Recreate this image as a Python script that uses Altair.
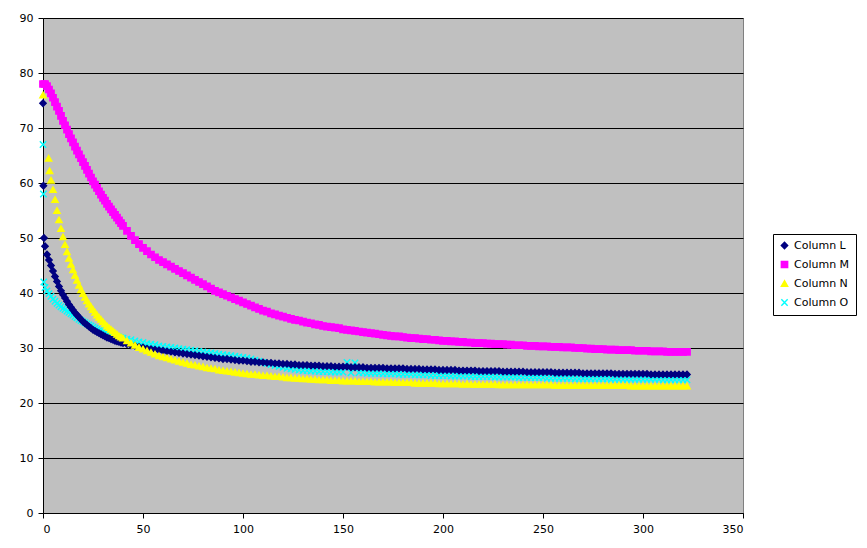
import altair as alt
import pandas as pd

# x positions of the dense part of every series
GRID = list(range(1, 41)) + list(range(42, 323, 2))

SERIES = ["Column L", "Column M", "Column N", "Column O"]
COLORS = ["#000080", "#FF00FF", "#FFFF00", "#00FFFF"]
XPATH = "M-1,-1L1,1M-1,1L1,-1"
SHAPES = ["diamond", "square", "triangle-up", XPATH]

# ---- Column L (navy diamonds)
L_head_x = [0, 0.2, 0.5]
L_head_y = [74.5, 59.5, 50.0]
L_a = [48.5, 47.0, 46.0, 45.0, 44.0, 43.0, 42.1, 41.2, 40.4, 39.7,
       39.1, 38.5, 37.9, 37.4, 36.9, 36.4, 36.0, 35.6, 35.2, 34.8,
       34.5, 34.2, 33.9, 33.6, 33.3, 33.1, 32.9, 32.7, 32.5, 32.3,
       32.1, 31.9, 31.8, 31.6, 31.5, 31.3, 31.2, 31.1, 31.0, 30.9]
L_b = [30.7, 30.5, 30.4, 30.2, 30.1, 29.9, 29.8, 29.7, 29.6, 29.5,
       29.4, 29.3, 29.2, 29.1, 29.0, 28.9, 28.8, 28.7, 28.6, 28.5,
       28.4, 28.3, 28.2, 28.1, 28.0, 28.0, 27.9, 27.8, 27.7, 27.7,
       27.6, 27.5, 27.5, 27.4, 27.4, 27.3, 27.3, 27.2, 27.2, 27.1,
       27.1, 27.0, 27.0, 26.9, 26.9, 26.9, 26.8, 26.8, 26.8, 26.7,
       26.7, 26.7, 26.6, 26.6, 26.6, 26.6, 26.5, 26.5, 26.5, 26.5,
       26.4, 26.4, 26.4, 26.4, 26.4, 26.3, 26.3, 26.3, 26.3, 26.3,
       26.2, 26.2, 26.2, 26.2, 26.1, 26.1, 26.1, 26.1, 26.0, 26.0,
       26.0, 26.0, 26.0, 25.9, 25.9, 25.9, 25.9, 25.9, 25.8, 25.8,
       25.8, 25.8, 25.8, 25.8, 25.7, 25.7, 25.7, 25.7, 25.7, 25.7,
       25.6, 25.6, 25.6, 25.6, 25.6, 25.6, 25.6, 25.5, 25.5, 25.5,
       25.5, 25.5, 25.5, 25.5, 25.4, 25.4, 25.4, 25.4, 25.4, 25.4,
       25.4, 25.4, 25.3, 25.3, 25.3, 25.3, 25.3, 25.3, 25.3, 25.3,
       25.3, 25.2, 25.2, 25.2, 25.2, 25.2, 25.2, 25.2, 25.2, 25.2,
       25.2]

# ---- Column M (magenta squares)
M_head_x = [0]
M_head_y = [78.0]
M_a = [78.0, 77.6, 77.0, 76.3, 75.5, 74.7, 73.9, 73.1, 72.2, 71.3,
       70.5, 69.7, 68.9, 68.1, 67.4, 66.6, 65.9, 65.2, 64.5, 63.8,
       63.1, 62.4, 61.7, 61.0, 60.3, 59.7, 59.1, 58.5, 57.9, 57.3,
       56.8, 56.2, 55.7, 55.2, 54.7, 54.2, 53.7, 53.2, 52.7, 52.2]
M_b = [51.3, 50.4, 49.6, 48.9, 48.2, 47.6, 47.0, 46.5, 46.0, 45.6,
       45.2, 44.8, 44.4, 44.0, 43.6, 43.2, 42.8, 42.4, 42.0, 41.6,
       41.2, 40.8, 40.4, 40.1, 39.8, 39.5, 39.2, 38.9, 38.6, 38.3,
       38.0, 37.7, 37.4, 37.1, 36.8, 36.6, 36.3, 36.1, 35.9, 35.7,
       35.5, 35.3, 35.1, 35.0, 34.8, 34.6, 34.5, 34.3, 34.2, 34.0,
       33.9, 33.8, 33.7, 33.6, 33.4, 33.3, 33.2, 33.1, 33.0, 32.9,
       32.8, 32.7, 32.6, 32.5, 32.4, 32.3, 32.2, 32.1, 32.1, 32.0,
       31.9, 31.8, 31.8, 31.7, 31.6, 31.6, 31.5, 31.5, 31.4, 31.3,
       31.3, 31.2, 31.2, 31.1, 31.1, 31.0, 31.0, 30.9, 30.9, 30.9,
       30.8, 30.8, 30.7, 30.7, 30.7, 30.6, 30.6, 30.5, 30.5, 30.5,
       30.4, 30.4, 30.4, 30.3, 30.3, 30.3, 30.2, 30.2, 30.2, 30.1,
       30.1, 30.1, 30.0, 30.0, 30.0, 29.9, 29.9, 29.8, 29.8, 29.8,
       29.7, 29.7, 29.7, 29.6, 29.6, 29.6, 29.6, 29.5, 29.5, 29.5,
       29.5, 29.4, 29.4, 29.4, 29.4, 29.3, 29.3, 29.3, 29.3, 29.3,
       29.3]

# ---- Column N (yellow triangles)
N_head_x = [0, 2.8, 3.3]
N_head_y = [76.0, 64.5, 62.2]
N_a = [None, None, None, 60.5, 58.8, 57.0, 55.0, 53.3, 51.7, 50.2,
       48.8, 47.5, 46.3, 45.2, 44.2, 43.2, 42.3, 41.4, 40.6, 39.9,
       39.2, 38.6, 38.0, 37.5, 37.0, 36.5, 36.0, 35.6, 35.2, 34.8,
       34.4, 34.0, 33.7, 33.4, 33.1, 32.8, 32.5, 32.2, 32.0, 31.8]
N_b = [31.3, 30.9, 30.5, 30.1, 29.8, 29.5, 29.2, 28.9, 28.6, 28.4,
       28.2, 28.0, 27.8, 27.6, 27.4, 27.2, 27.0, 26.9, 26.7, 26.6,
       26.4, 26.3, 26.2, 26.0, 25.9, 25.8, 25.7, 25.6, 25.5, 25.4,
       25.3, 25.2, 25.2, 25.1, 25.0, 25.0, 24.9, 24.8, 24.8, 24.7,
       24.6, 24.6, 24.5, 24.5, 24.4, 24.4, 24.3, 24.3, 24.2, 24.2,
       24.2, 24.1, 24.1, 24.1, 24.0, 24.0, 24.0, 24.0, 23.9, 23.9,
       23.9, 23.9, 23.8, 23.8, 23.8, 23.8, 23.8, 23.7, 23.7, 23.7,
       23.7, 23.7, 23.6, 23.6, 23.6, 23.6, 23.6, 23.6, 23.5, 23.5,
       23.5, 23.5, 23.5, 23.5, 23.4, 23.5, 23.4, 23.4, 23.4, 23.4,
       23.4, 23.4, 23.4, 23.3, 23.3, 23.3, 23.3, 23.3, 23.3, 23.3,
       23.3, 23.3, 23.3, 23.3, 23.3, 23.3, 23.3, 23.2, 23.2, 23.2,
       23.2, 23.2, 23.2, 23.2, 23.2, 23.2, 23.2, 23.2, 23.2, 23.2,
       23.2, 23.2, 23.2, 23.2, 23.2, 23.2, 23.1, 23.1, 23.1, 23.1,
       23.1, 23.1, 23.1, 23.1, 23.1, 23.1, 23.1, 23.1, 23.1, 23.1,
       23.1]

# ---- Column O (cyan crosses)
O_head_x = [0, 0.2, 0.4]
O_head_y = [67.0, 58.0, 42.0]
O_a = [41.0, 40.4, 39.9, 39.4, 38.9, 38.5, 38.1, 37.8, 37.5, 37.2,
       37.0, 36.7, 36.5, 36.2, 36.0, 35.7, 35.5, 35.2, 35.0, 34.8,
       34.6, 34.4, 34.2, 34.0, 33.8, 33.6, 33.4, 33.2, 33.1, 32.9,
       32.8, 32.6, 32.5, 32.4, 32.3, 32.2, 32.1, 32.0, 31.9, 31.8]
O_b = [31.6, 31.5, 31.3, 31.1, 31.0, 30.8, 30.7, 30.6, 30.4, 30.3,
       30.2, 30.1, 30.0, 29.9, 29.8, 29.7, 29.6, 29.5, 29.4, 29.3,
       29.2, 29.1, 29.0, 28.9, 28.8, 28.7, 28.6, 28.5, 28.4, 28.3,
       28.2, 28.0, 27.8, 27.6, 27.4, 27.2, 27.0, 26.8, 26.6, 26.5,
       26.3, 26.2, 26.1, 26.0, 25.9, 25.9, 25.8, 25.8, 25.7, 25.7,
       25.7, 25.6, 25.6, 25.6, 25.6, 27.4, 25.5, 27.3, 25.5, 25.5,
       25.4, 25.4, 25.4, 25.4, 25.3, 25.3, 25.3, 25.3, 25.2, 25.2,
       25.2, 25.2, 25.1, 25.1, 25.1, 25.1, 25.0, 25.0, 25.0, 25.0,
       25.0, 24.9, 24.9, 24.9, 24.9, 24.9, 24.8, 24.8, 24.8, 24.8,
       24.8, 24.8, 24.7, 24.7, 24.7, 24.7, 24.7, 24.7, 24.6, 24.6,
       24.6, 24.6, 24.6, 24.6, 24.6, 24.5, 24.5, 24.5, 24.5, 24.5,
       24.5, 24.5, 24.4, 24.4, 24.4, 24.4, 24.4, 24.4, 24.4, 24.4,
       24.4, 24.3, 24.3, 24.3, 24.3, 24.3, 24.3, 24.3, 24.3, 24.3,
       24.3, 24.3, 24.3, 24.3, 24.2, 24.2, 24.2, 24.2, 24.2, 24.2,
       24.2]

X_TICKS = [0, 50, 100, 150, 200, 250, 300, 350]
Y_TICKS = [0, 10, 20, 30, 40, 50, 60, 70, 80, 90]

rows = []


def add(name, hx, hy, body):
    assert len(body) == len(GRID), (name, len(body), len(GRID))
    for x, y in zip(hx, hy):
        rows.append({"x": x, "y": y, "series": name})
    for x, y in zip(GRID, body):
        if y is not None:
            rows.append({"x": x, "y": y, "series": name})


# drawing order: cyan at the back, yellow at the front
add("Column O", O_head_x, O_head_y, O_a + O_b)
add("Column L", L_head_x, L_head_y, L_a + L_b)
add("Column M", M_head_x, M_head_y, M_a + M_b)
add("Column N", N_head_x, N_head_y, N_a + N_b)
df = pd.DataFrame(rows)

legend = alt.Legend(
    title=None,
    orient="none",
    legendX=730,
    legendY=216,
    strokeColor="black",
    fillColor="white",
    padding=6,
    rowPadding=6,
    labelFont="DejaVu Sans",
    labelFontSize=11,
    labelColor="black",
    labelOffset=4,
    symbolSize=40,
    symbolStrokeWidth=1.4,
)

chart = (
    alt.Chart(df)
    .mark_point(filled=True, size=40, strokeWidth=1.4, opacity=1)
    .encode(
        x=alt.X(
            "x:Q",
            scale=alt.Scale(domain=[0, 350], nice=False, zero=False),
            axis=alt.Axis(values=X_TICKS, title=None, grid=False, labelPadding=5),
        ),
        y=alt.Y(
            "y:Q",
            scale=alt.Scale(domain=[0, 90], nice=False),
            axis=alt.Axis(values=Y_TICKS, title=None, grid=True, labelPadding=5),
        ),
        fill=alt.Fill("series:N", scale=alt.Scale(domain=SERIES, range=COLORS), legend=legend),
        stroke=alt.Stroke("series:N", scale=alt.Scale(domain=SERIES, range=COLORS), legend=legend),
        shape=alt.Shape("series:N", scale=alt.Scale(domain=SERIES, range=SHAPES), legend=legend),
    )
    .properties(
        width=700,
        height=495,
        autosize=alt.AutoSizeParams(type="none"),
        padding={"left": 35, "top": 10, "right": 116, "bottom": 25},
    )
    .configure_view(fill="#C0C0C0", stroke="#808080", strokeWidth=1)
    .configure_axis(
        domainColor="black",
        tickColor="black",
        tickSize=5,
        gridColor="black",
        gridWidth=1,
        gridOpacity=1,
        labelFont="DejaVu Sans",
        labelFontSize=11,
        labelColor="black",
    )
)

chart.save("out.html", embed_options={"renderer": "svg", "actions": False})
